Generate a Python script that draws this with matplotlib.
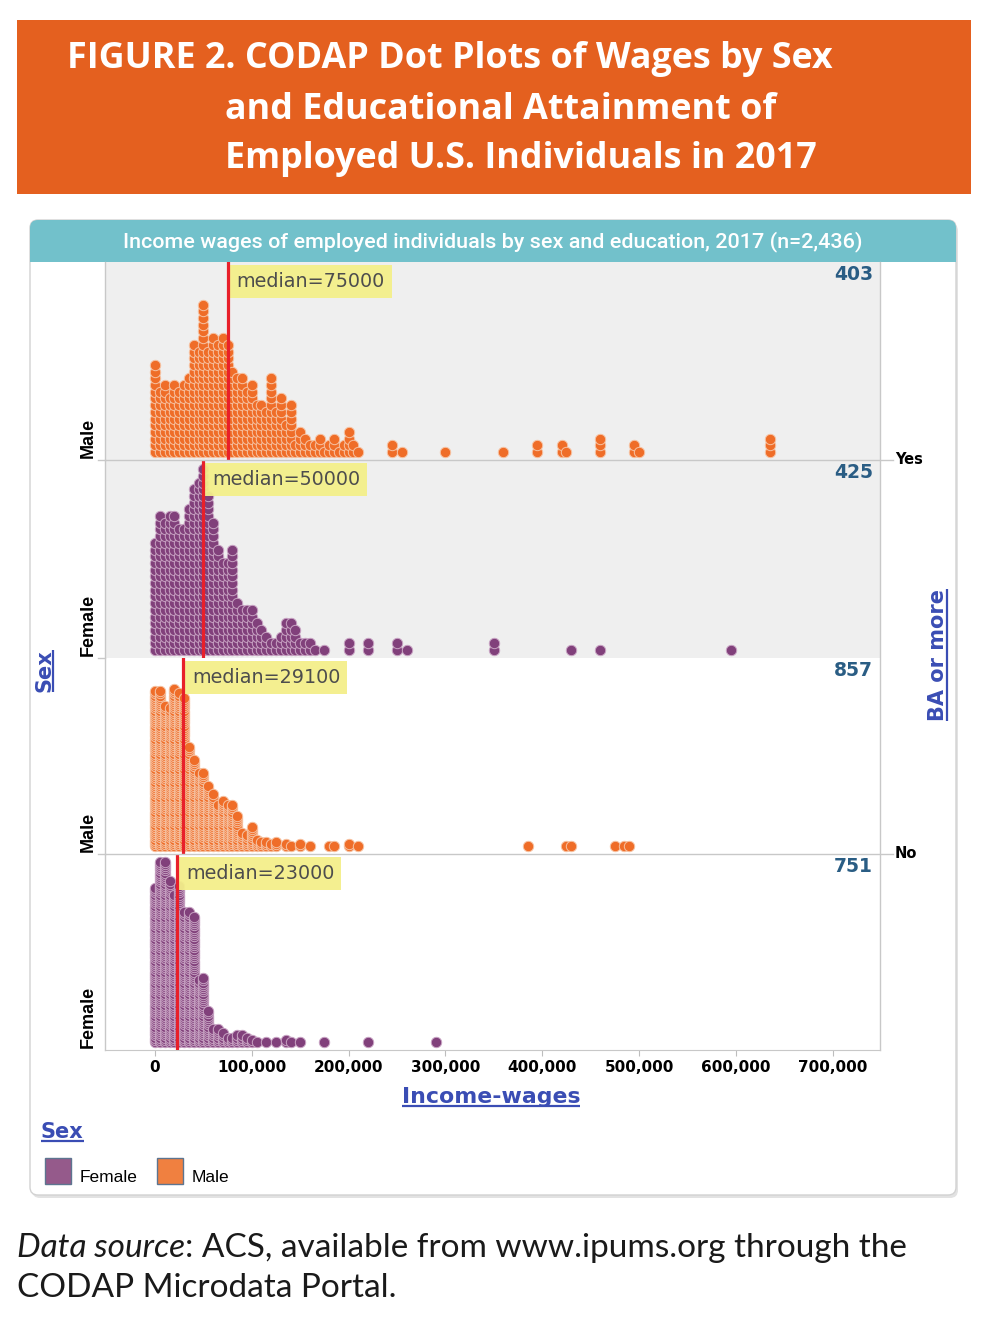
"""
CODAP dot plots of wages by sex and educational attainment (ACS 2017)
"""
import matplotlib
matplotlib.use("Agg")
import matplotlib.pyplot as plt
from matplotlib.patches import Rectangle, FancyBboxPatch

# ---- data: wage bins (thousand $) and number of people stacked in each bin
# BA or more = Yes, Male
yes_male_wage_k = [0, 5, 10, 15, 20, 25, 30, 35, 40, 45, 50, 55, 60, 65, 70, 75, 80, 85,
                   90, 95, 100, 105, 110, 115, 120, 125, 130, 135, 140, 145, 150, 155,
                   160, 165, 170, 175, 180, 185, 190, 195, 200, 205, 210,
                   245, 255, 300, 360, 395, 420, 425, 460, 495, 500, 635]
yes_male_count = [14, 10, 11, 9, 11, 10, 11, 12, 17, 16, 23, 16, 18, 17, 18, 17, 13, 12,
                  12, 10, 11, 8, 8, 7, 12, 7, 9, 5, 8, 2, 4, 3,
                  2, 2, 3, 1, 2, 3, 1, 2, 4, 2, 1,
                  2, 1, 1, 1, 2, 2, 1, 3, 2, 1, 3]

# BA or more = Yes, Female
yes_female_wage_k = [0, 5, 10, 15, 20, 25, 30, 35, 40, 45, 50, 55, 60, 65, 70, 75, 80, 85,
                     90, 95, 100, 105, 110, 115, 120, 125, 130, 135, 140, 145, 150, 155,
                     160, 165, 175, 200, 220, 250, 260, 350, 430, 460, 595]
yes_female_count = [17, 21, 20, 21, 21, 19, 19, 22, 25, 26, 28, 24, 20, 16, 14, 14, 16, 8,
                    7, 7, 7, 5, 4, 3, 2, 2, 3, 5, 5, 4, 2, 2,
                    2, 1, 1, 2, 2, 2, 1, 2, 1, 1, 1]

# BA or more = No, Male
no_male_wage_k = [0, 5, 10, 15, 20, 25, 30, 35, 40, 45, 50, 55, 60, 65, 70, 75, 80, 85,
                  90, 95, 100, 105, 110, 115, 120, 125, 135, 140, 150, 160, 180, 185,
                  200, 210, 385, 425, 430, 475, 485, 490]
no_male_count = [73, 73, 66, 65, 74, 72, 70, 47, 41, 35, 35, 29, 25, 20, 22, 20, 20, 15,
                 7, 6, 10, 4, 3, 3, 2, 3, 2, 1, 2, 1, 1, 1,
                 2, 1, 1, 1, 1, 1, 1, 1]

# BA or more = No, Female
no_female_wage_k = [0, 5, 10, 15, 20, 25, 30, 35, 40, 45, 50, 55, 60, 65, 70, 75, 80, 85,
                    90, 95, 100, 105, 115, 125, 135, 140, 150, 175, 220, 290]
no_female_count = [71, 83, 83, 74, 68, 72, 60, 60, 58, 29, 30, 15, 7, 7, 5, 3, 3, 4,
                   4, 3, 2, 1, 1, 1, 2, 1, 1, 1, 1, 1]

medians = [75000, 50000, 29100, 23000]
sex_labels = ["Male", "Female", "Male", "Female"]
edu_labels = ["Yes", "No"]
x_ticks = [0, 100000, 200000, 300000, 400000, 500000, 600000, 700000]

# ---- layout (pixels of the 994x1324 canvas)
W, H = 994, 1324
ORANGE = "#e4601f"
TEAL = "#72c1cb"
BLUE = "#3a4db4"
NUM_BLUE = "#2a5d84"
MALE_FC, MALE_EC = "#ef6d28", "#f6c2a2"
FEM_FC, FEM_EC = "#81407b", "#c8a3c3"

PX_ZERO, PX_PER_100K = 155, 96.8
AX_L, AX_R = 105, 880
panel_top = [262, 460, 658, 854]
panel_bot = [460, 658, 854, 1050]
step_px = [6.7, 6.7, 2.15, 2.2]     # vertical spacing of stacked dots
panel_bg = ["#efefef", "#efefef", "white", "white"]

fig = plt.figure(figsize=(W / 100, H / 100), dpi=100)
fig.patch.set_facecolor("white")
renderer = fig.canvas.get_renderer()

# background layer (below the panels) and overlay layer (above them)
bg = fig.add_axes([0, 0, 1, 1], zorder=0)
fg = fig.add_axes([0, 0, 1, 1], zorder=10)
for a in (bg, fg):
    a.set_xlim(0, W)
    a.set_ylim(H, 0)
    a.axis("off")
fg.patch.set_alpha(0)


def fit_width(t, target):
    w = t.get_window_extent(renderer).width
    t.set_fontsize(t.get_fontsize() * target / w)


def underline(t, vertical=False, lw=1.6):
    bb = t.get_window_extent(renderer)
    if vertical:
        x = bb.x1 - 1
        fg.plot([x, x], [H - bb.y0, H - bb.y1], color=BLUE, lw=lw, solid_capstyle="butt")
    else:
        y = H - bb.y0 - 1
        fg.plot([bb.x0, bb.x1], [y, y], color=BLUE, lw=lw, solid_capstyle="butt")


# orange header
bg.add_patch(Rectangle((17, 20), 954, 174, fc=ORANGE, ec="none"))
t1 = bg.text(67, 68, "FIGURE 2. CODAP Dot Plots of Wages by Sex", color="white",
             fontsize=23, fontweight="bold", family="Open Sans", va="baseline")
fit_width(t1, 768)
for yb, line in [(119, "and Educational Attainment of"),
                 (168, "Employed U.S. Individuals in 2017")]:
    bg.text(225, yb, line, color="white", fontsize=t1.get_fontsize(),
            fontweight="bold", family="Open Sans", va="baseline")

# CODAP frame with shadow and teal title bar
bg.add_patch(FancyBboxPatch((32, 223), 926, 975, boxstyle="round,pad=0,rounding_size=8",
                            fc="#e2e2e2", ec="none"))
bg.add_patch(FancyBboxPatch((30, 220), 926, 975, boxstyle="round,pad=0,rounding_size=8",
                            fc="white", ec="#d2d2d2", lw=1))
bg.add_patch(FancyBboxPatch((30, 220), 926, 42, boxstyle="round,pad=0,rounding_size=8",
                            fc=TEAL, ec="none"))
bg.add_patch(Rectangle((30, 245), 926, 17, fc=TEAL, ec="none"))
tt = bg.text(493, 247, "Income wages of employed individuals by sex and education, 2017 (n=2,436)",
             color="white", fontsize=14, family="Roboto", fontweight="medium",
             ha="center", va="baseline")
fit_width(tt, 740)

# dot plot panels
panels = [
    (yes_male_wage_k, yes_male_count, MALE_FC, MALE_EC),
    (yes_female_wage_k, yes_female_count, FEM_FC, FEM_EC),
    (no_male_wage_k, no_male_count, MALE_FC, MALE_EC),
    (no_female_wage_k, no_female_count, FEM_FC, FEM_EC),
]
xlim = ((AX_L - PX_ZERO) / PX_PER_100K * 1e5, (AX_R - PX_ZERO) / PX_PER_100K * 1e5)

axes = []
for i, (wage_k, count, fc, ec) in enumerate(panels):
    top, bot = panel_top[i], panel_bot[i]
    ax = fig.add_axes([AX_L / W, 1 - bot / H, (AX_R - AX_L) / W, (bot - top) / H], zorder=5)
    ax.set_xlim(*xlim)
    ax.set_ylim(0, bot - top)
    ax.set_facecolor(panel_bg[i])
    for s in ax.spines.values():
        s.set_visible(False)
    ax.set_xticks([])
    ax.set_yticks([])

    xs, ys = [], []
    for w, c in zip(wage_k, count):
        for k in range(c):
            xs.append(w * 1000)
            ys.append(8 + k * step_px[i])
    ax.scatter(xs, ys, s=56, c=fc, edgecolors=ec, linewidths=0.7, zorder=3, clip_on=False)

    ax.axvline(medians[i], color="#e8202a", lw=2.3, zorder=5)
    ax.annotate(f"median={medians[i]}", xy=(medians[i], 1), xycoords=("data", "axes fraction"),
                xytext=(6.3, -7.0), textcoords="offset points", ha="left", va="top",
                fontsize=13.8, color="#4d4d4d",
                bbox=dict(boxstyle="square,pad=0.36", fc="#f4ef8a", ec="none", alpha=0.95),
                zorder=4)

    # count in the corner
    fg.text(873, top + 13, str(sum(count)), ha="right", va="center", fontsize=13.5,
            fontweight="bold", color=NUM_BLUE)
    # sex category label
    bg.text(88, bot - 2, sex_labels[i], rotation=90, ha="center", va="bottom",
            fontsize=13, fontweight="bold", family="Liberation Sans", color="black")
    axes.append(ax)

# x axis on the bottom panel
axb = axes[-1]
axb.spines["bottom"].set_visible(True)
axb.spines["bottom"].set_color("#c8c8c8")
axb.set_xticks(x_ticks)
axb.set_xticklabels([f"{v:,}" for v in x_ticks])
axb.tick_params(axis="x", length=4.5, color="#bdbdbd", pad=2.5, labelsize=11)
for lab in axb.get_xticklabels():
    lab.set_fontweight("bold")

# frame lines around the panels
fg.plot([AX_L, AX_L], [262, 1050], color="#c8c8c8", lw=1)
fg.plot([AX_R, AX_R], [262, 1050], color="#c8c8c8", lw=1)
for y in [460, 658, 854]:
    fg.plot([98, AX_L], [y, y], color="#c8c8c8", lw=1)
for y in [460, 854]:
    fg.plot([AX_L, 893], [y, y], color="#c8c8c8", lw=1)
for y, lab in zip([459, 853], edu_labels):
    fg.text(895, y, lab, ha="left", va="center", fontsize=10.5, fontweight="bold", color="black")

# axis titles (blue, underlined)
ts = fg.text(44, 671, "Sex", rotation=90, ha="center", va="center", fontsize=15,
             fontweight="bold", color=BLUE)
underline(ts, vertical=True)
tb = fg.text(938, 655, "BA or more", rotation=90, ha="center", va="center", fontsize=15,
             fontweight="bold", color=BLUE)
underline(tb, vertical=True)
tx = fg.text(491, 1097, "Income-wages", ha="center", va="center", fontsize=15,
             fontweight="bold", color=BLUE)
fit_width(tx, 178)
underline(tx)

# legend
tl = fg.text(41, 1132, "Sex", ha="left", va="center", fontsize=15, fontweight="bold", color=BLUE)
underline(tl)
bg.add_patch(Rectangle((45, 1158), 26, 26, fc="#955a8b", ec="#5d7590", lw=1))
bg.text(80, 1177, "Female", ha="left", va="center", fontsize=12.5, family="Liberation Sans")
bg.add_patch(Rectangle((157, 1158), 26, 26, fc="#f08040", ec="#5d7590", lw=1))
bg.text(192, 1177, "Male", ha="left", va="center", fontsize=12.5, family="Liberation Sans")

# data source footnote
f1 = bg.text(17, 1257, "Data source", style="italic", fontsize=18, family="Lato",
             color="#1a1a1a", va="baseline")
f2 = bg.text(0, 1257, ": ACS, available from www.ipums.org through the", fontsize=18,
             family="Lato", color="#1a1a1a", va="baseline")
w_all = f1.get_window_extent(renderer).width + f2.get_window_extent(renderer).width
scale = 888 / w_all
f1.set_fontsize(18 * scale)
f2.set_fontsize(18 * scale)
f2.set_x(f1.get_window_extent(renderer).x1)
bg.text(17, 1297, "CODAP Microdata Portal.", fontsize=18 * scale, family="Lato",
        color="#1a1a1a", va="baseline")

fig.savefig("out.png", dpi=100, facecolor="white")
